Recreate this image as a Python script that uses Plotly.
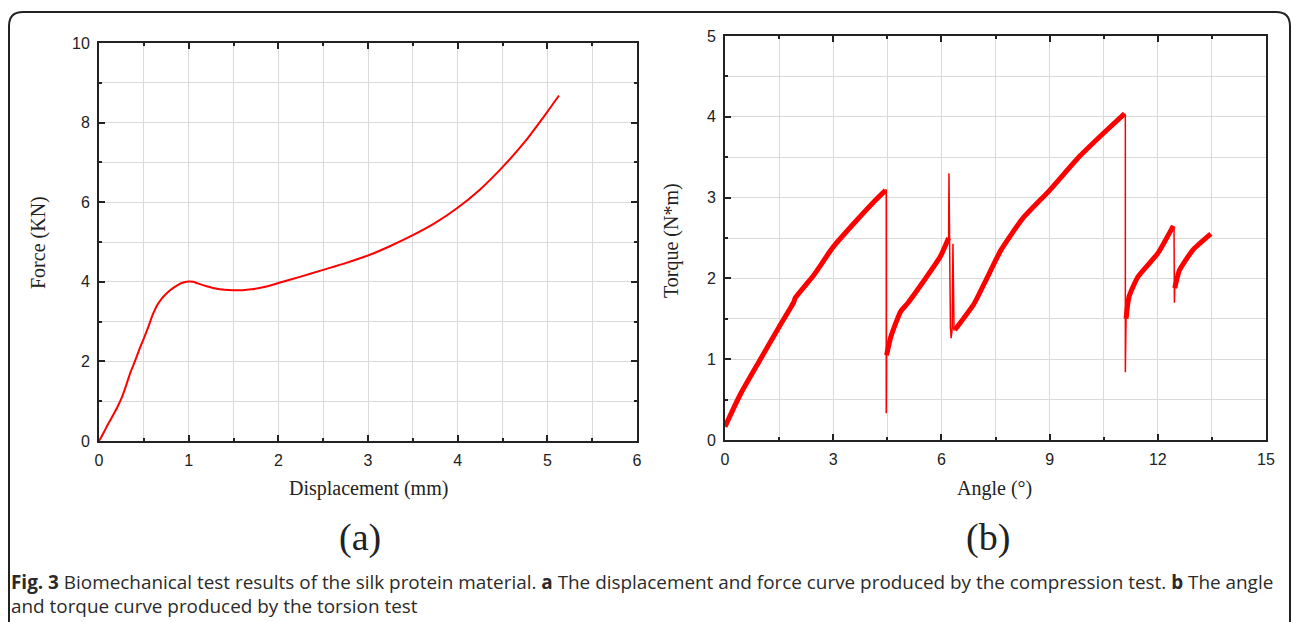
import plotly.graph_objects as go

W, H = 1292, 622

# ---- Panel (a): compression test ----
displacement = [0, 0.05, 0.1, 0.15, 0.2, 0.25, 0.3, 0.35, 0.4, 0.45, 0.5, 0.55, 0.6, 0.65, 0.7,
                0.75, 0.8, 0.85, 0.9, 0.95, 1.0, 1.05, 1.1, 1.2, 1.3, 1.4, 1.5, 1.6, 1.7, 1.8,
                1.9, 2.0, 2.25, 2.5, 2.75, 3.0, 3.25, 3.5, 3.75, 4.0, 4.25, 4.5, 4.75,
                5.0, 5.13]
force = [0, 0.2, 0.42, 0.62, 0.83, 1.07, 1.38, 1.72, 2.0, 2.3, 2.58, 2.87, 3.18, 3.42, 3.58,
         3.7, 3.8, 3.88, 3.95, 3.99, 4.01, 4.0, 3.96, 3.89, 3.83, 3.8, 3.79, 3.79, 3.81, 3.85,
         3.9, 3.97, 4.13, 4.3, 4.47, 4.66, 4.9, 5.17, 5.48, 5.86, 6.32, 6.88, 7.52,
         8.27, 8.68]

# ---- Panel (b): torsion test ----
rise_angle = [0, 0.42, 0.97, 1.5, 1.9, 1.95, 2.46, 3.0, 3.57, 4.13, 4.45, None,
              4.48, 4.6, 4.87, 5.06, 5.53, 5.97, 6.2, None,
              6.37, 6.91, 7.28, 7.65, 8.25, 9.0, 9.85, 10.5, 11.08, None,
              11.12, 11.2, 11.45, 12.0, 12.43, None,
              12.47, 12.6, 12.97, 13.47]
rise_torque = [0.165, 0.56, 0.99, 1.40, 1.70, 1.76, 2.04, 2.39, 2.68, 2.95, 3.09, None,
               1.05, 1.28, 1.59, 1.69, 1.98, 2.27, 2.5, None,
               1.36, 1.69, 2.02, 2.35, 2.74, 3.09, 3.52, 3.8, 4.04, None,
               1.5, 1.77, 2.02, 2.31, 2.65, None,
               1.88, 2.1, 2.35, 2.55]
drop_angle = [4.45, 4.47, 4.47, 4.48, None,
              6.2, 6.21, 6.25, 6.27, 6.3, 6.32, 6.35, 6.37, None,
              11.08, 11.1, 11.1, 11.12, None,
              12.43, 12.45, 12.46, 12.47]
drop_torque = [3.09, 3.1, 0.33, 1.05, None,
               2.5, 3.3, 1.4, 1.26, 1.38, 2.43, 1.36, 1.36, None,
               4.04, 4.02, 0.84, 1.5, None,
               2.65, 2.62, 1.7, 1.88]

RED = "#ff0000"
GRID = "#dadada"
TICKFONT = dict(family="Liberation Sans, Arial", size=16, color="#222")


def px(x):
    return x / W


def py(y):
    return 1 - y / H


fig = go.Figure()
fig.add_trace(go.Scatter(x=displacement, y=force, mode="lines",
                         line=dict(color=RED, width=2, shape="spline", smoothing=0.6),
                         xaxis="x", yaxis="y", showlegend=False))
fig.add_trace(go.Scatter(x=drop_angle, y=drop_torque, mode="lines",
                         line=dict(color=RED, width=1.5), xaxis="x2", yaxis="y2",
                         showlegend=False, connectgaps=False))
fig.add_trace(go.Scatter(x=rise_angle, y=rise_torque, mode="lines",
                         line=dict(color=RED, width=5, shape="spline", smoothing=0.5),
                         xaxis="x2", yaxis="y2", showlegend=False, connectgaps=False))

common = dict(ticks="inside", tickwidth=1.5, tickcolor="#222", showgrid=True,
              gridcolor=GRID, gridwidth=1, showline=True, linecolor="#222",
              linewidth=2, zeroline=False, tickfont=TICKFONT, ticklen=6,
              ticklabelstandoff=4, automargin=False)

fig.update_layout(
    template="none", autosize=False,
    width=W, height=H, margin=dict(l=0, r=0, t=0, b=0, pad=0),
    paper_bgcolor="white", plot_bgcolor="white", showlegend=False,
    xaxis=dict(domain=[px(99), px(637)], range=[0, 6], dtick=1, tick0=0,
               mirror="ticks", anchor="y",
               minor=dict(dtick=0.5, ticks="inside", ticklen=3, tickwidth=1.5,
                          tickcolor="#222", showgrid=True, gridcolor=GRID),
               **common),
    yaxis=dict(domain=[py(441), py(43)], range=[0, 10], dtick=2, tick0=0,
               mirror="ticks", anchor="x",
               minor=dict(dtick=1, ticks="inside", ticklen=3, tickwidth=1.5,
                          tickcolor="#222", showgrid=True, gridcolor=GRID),
               **common),
    xaxis2=dict(domain=[px(725), px(1266)], range=[0, 15], dtick=3, tick0=0,
                mirror="ticks", anchor="y2",
                minor=dict(dtick=1.5, ticks="inside", ticklen=3, tickwidth=1.5,
                           tickcolor="#222", showgrid=True, gridcolor=GRID),
                **common),
    yaxis2=dict(domain=[py(440), py(36)], range=[0, 5], dtick=1, tick0=0,
                mirror=True, anchor="x2",
                minor=dict(dtick=0.5, ticks="inside", ticklen=3, tickwidth=1.5,
                           tickcolor="#222", showgrid=True, gridcolor=GRID),
                **common),
    yaxis3=dict(overlaying="y2", anchor="x2", side="right", range=[0, 12], dtick=1,
                ticks="inside", ticklen=6, tickwidth=1.5, tickcolor="#222",
                showticklabels=False, showgrid=False, showline=False, zeroline=False,
                automargin=False),
)

serif = "Liberation Serif, Times New Roman, serif"
ann = []
ann.append(dict(text="Force (KN)", x=px(38), y=py(243), textangle=-90,
                font=dict(family=serif, size=20, color="#222")))
ann.append(dict(text="Displacement (mm)", x=px(368), y=py(488),
                font=dict(family=serif, size=20, color="#222")))
ann.append(dict(text="Torque (N*m)", x=px(671), y=py(241), textangle=-90,
                font=dict(family=serif, size=20, color="#222")))
ann.append(dict(text="Angle (°)", x=px(994), y=py(488),
                font=dict(family=serif, size=20, color="#222")))
ann.append(dict(text="(a)", x=px(360), y=py(537),
                font=dict(family=serif, size=38, color="#222")))
ann.append(dict(text="(b)", x=px(988), y=py(537),
                font=dict(family=serif, size=38, color="#222")))
cap_font = dict(family="Open Sans, Noto Sans, sans-serif", size=18.9, color="#2a2a2a")
ann.append(dict(text="<b>Fig. 3</b> Biomechanical test results of the silk protein material. "
                     "<b>a</b> The displacement and force curve produced by the compression test. "
                     "<b>b</b> The angle",
                x=px(9), y=py(582), xanchor="left", font=cap_font))
ann.append(dict(text="and torque curve produced by the torsion test",
                x=px(9), y=py(606), xanchor="left", font=cap_font))
for a in ann:
    a.setdefault("xanchor", "center")
    a.update(xref="paper", yref="paper", yanchor="middle", showarrow=False)
fig.update_layout(annotations=ann)

path = (f"M {px(9)},{py(640)} L {px(9)},{py(26)} Q {px(9)},{py(12)} {px(23)},{py(12)} "
        f"L {px(1276)},{py(12)} Q {px(1290)},{py(12)} {px(1290)},{py(26)} "
        f"L {px(1290)},{py(640)}")
fig.add_shape(type="path", path=path, xref="paper", yref="paper",
              line=dict(color="#222", width=2))

fig.write_html("out.html", config={"responsive": False, "displayModeBar": False},
               post_script="document.documentElement.style.margin='0';"
                           "document.documentElement.style.padding='0';"
                           "document.body.style.margin='0';"
                           "document.body.style.padding='0';"
                           "document.body.style.overflow='hidden';")
